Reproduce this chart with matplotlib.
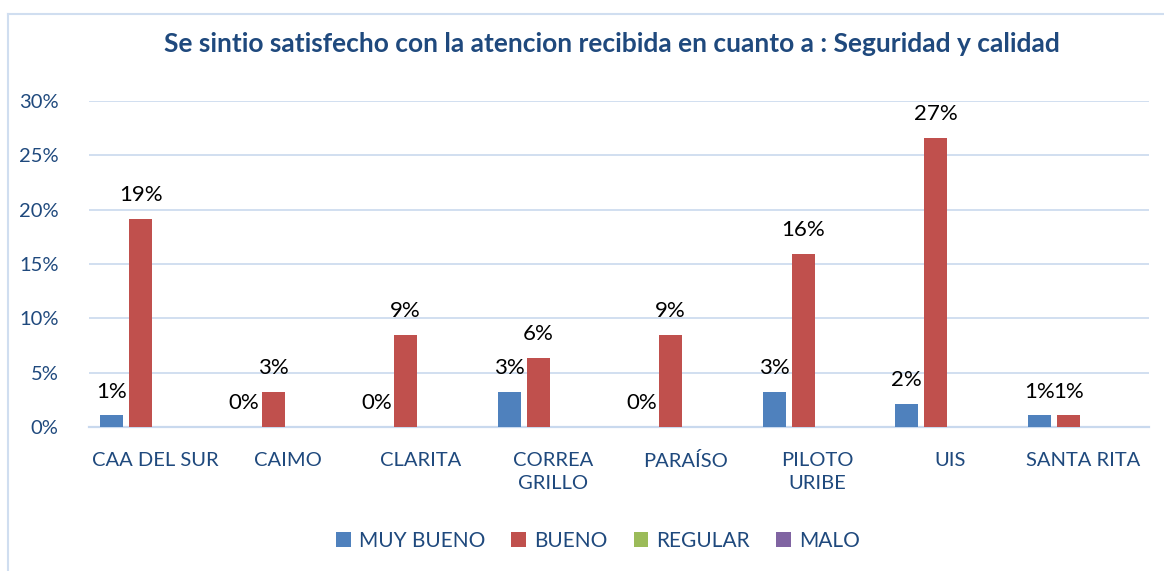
import matplotlib
matplotlib.use("Agg")
import matplotlib.pyplot as plt
from matplotlib.lines import Line2D
from matplotlib.patches import Patch
import numpy as np

categories = ["CAA DEL SUR", "CAIMO", "CLARITA", "CORREA\nGRILLO", "PARAÍSO",
              "PILOTO\nURIBE", "UIS", "SANTA RITA"]
series_names = ["MUY BUENO", "BUENO", "REGULAR", "MALO"]
muy_bueno = [1.06, 0.0, 0.0, 3.19, 0.0, 3.19, 2.13, 1.06]
bueno = [19.15, 3.19, 8.51, 6.38, 8.51, 15.96, 26.60, 1.06]
regular = [0, 0, 0, 0, 0, 0, 0, 0]
malo = [0, 0, 0, 0, 0, 0, 0, 0]
labelled = [True, True, False, False]
colors = ["#4F81BD", "#C0504D", "#9BBB59", "#8064A2"]
title = "Se sintio satisfecho con la atencion recibida en cuanto a : Seguridad y calidad"

plt.rcParams['font.family'] = ['Lato', 'DejaVu Sans']
txt_color = "#1F497D"
grid_color = "#C9D9EE"

W, H = 1164, 571
fig = plt.figure(figsize=(W / 100, H / 100), dpi=100)
ax = fig.add_axes([89 / W, 1 - 427 / H, (1149 - 89) / W, (427 - 101) / H])

data = [muy_bueno, bueno, regular, malo]
x = np.arange(len(categories))
bw = 0.174
step = 0.219
offsets = [-1.5 * step, -0.5 * step, 0.5 * step, 1.5 * step]
for vals, off, col, name, lab in zip(data, offsets, colors, series_names, labelled):
    v = np.array(vals) / 100.0
    bars = ax.bar(x + off, v, width=bw, color=col, label=name, zorder=3)
    if lab:
        for xi, vi in zip(x + off, v):
            ax.annotate(f"{vi * 100:.0f}%", (xi, vi), xytext=(0, 10),
                        textcoords="offset points", ha="center", va="bottom",
                        fontsize=16, color="black", zorder=4)

ax.set_xlim(-0.5, len(categories) - 0.5)
ax.set_ylim(0, 0.30)
ax.set_yticks(np.arange(0, 0.31, 0.05))
ax.set_yticklabels([f"{int(round(t * 100))}%" for t in np.arange(0, 0.31, 0.05)])
ax.set_xticks(x)
ax.set_xticklabels(categories, linespacing=1.4, va="top")
ax.tick_params(axis="both", length=0, labelsize=14.5, labelcolor=txt_color)
ax.tick_params(axis="x", pad=18)
ax.tick_params(axis="y", pad=22)
ax.grid(axis="y", color=grid_color, linewidth=1.2, zorder=0)
for s in ["top", "right", "left"]:
    ax.spines[s].set_visible(False)
ax.spines["bottom"].set_color(grid_color)
ax.spines["bottom"].set_linewidth(1.6)

fig.text(612 / W, 1 - 44 / H, title, ha="center", va="center",
         fontsize=19, fontweight="bold", color=txt_color)

handles = [Patch(facecolor=c, edgecolor="none") for c in colors]
leg = fig.legend(handles, series_names, loc="center", bbox_to_anchor=(598 / W, 1 - 541 / H),
                 ncol=4, frameon=False, fontsize=15, handlelength=0.7, handleheight=0.7,
                 handletextpad=0.4, columnspacing=1.25)
for t in leg.get_texts():
    t.set_color(txt_color)

# chart border (left and top visible)
fig.add_artist(Line2D([8 / W, 8 / W], [0, 1 - 13.5 / H], transform=fig.transFigure,
                      color="#D0DEF0", linewidth=1.5))
fig.add_artist(Line2D([8 / W, 1], [1 - 13.5 / H, 1 - 13.5 / H], transform=fig.transFigure,
                      color="#D0DEF0", linewidth=1.5))

fig.savefig("out.png", dpi=100, facecolor="white")
